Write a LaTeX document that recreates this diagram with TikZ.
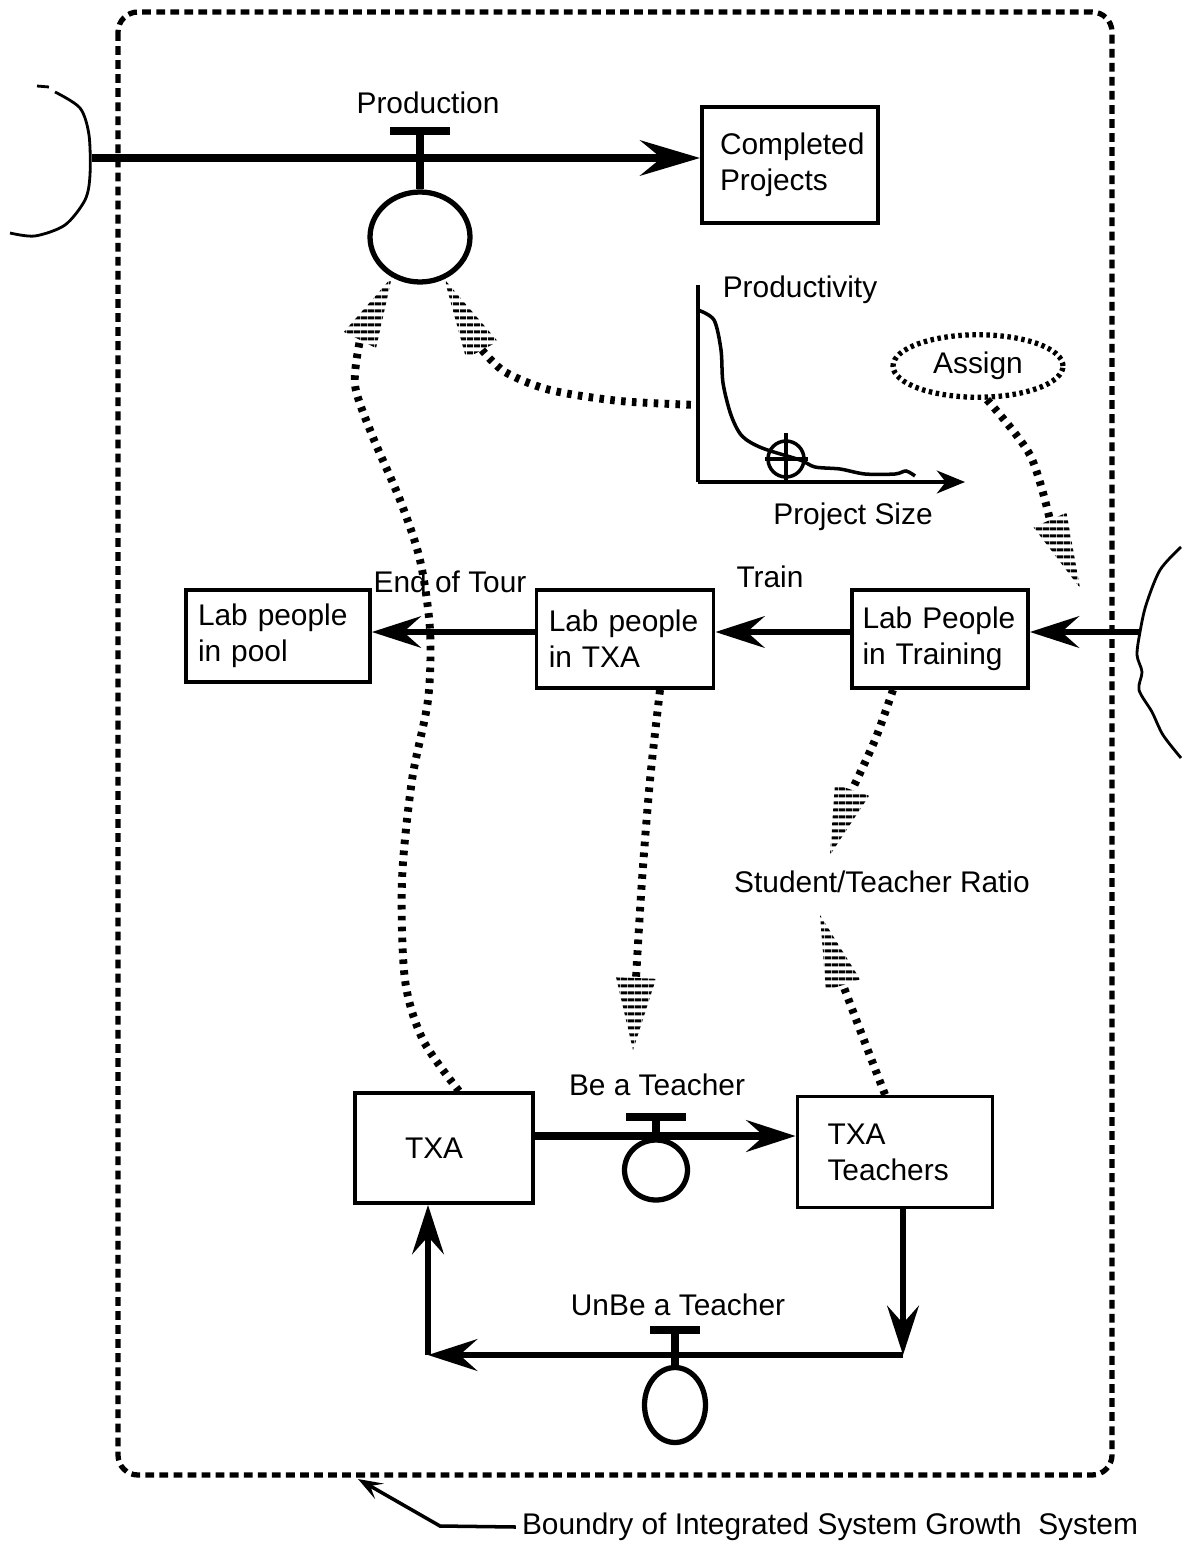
\documentclass[tikz,border=0pt]{standalone}
\usepackage{fontspec}
\setmainfont{Liberation Sans}
\usetikzlibrary{positioning}
\usetikzlibrary{arrows.meta}
\usetikzlibrary{shapes.geometric}
\usetikzlibrary{patterns.meta}
\usetikzlibrary{calc}
\hyphenpenalty=10000
\tikzset{stock/.style={draw,line width=2.2pt,inner sep=0pt,align=left}}
\tikzset{info/.style={line width=4.5pt,dash pattern=on 2.6pt off 3.6pt}}
\tikzset{hatch/.style={pattern={Lines[angle=0,distance=4pt,line width=1.8pt]}}}
\tikzset{flow/.style={line width=3.6pt,-{Stealth[length=28pt,width=18pt,inset=10pt]}}}
\tikzset{valve/.style={draw,ellipse,line width=3pt,inner sep=0pt}}
\tikzset{valvebar/.style={line width=4.5pt}}
\newcommand{\hatchhead}[3]{\path[hatch] (#1) -- ($(#2)!#3!90:(#1)$) -- ($(#2)!#3!-90:(#1)$) -- cycle;}

\begin{document}
\begin{tikzpicture}[x=0.02cm,y=-0.02cm,font=\fontsize{17}{20.5}\selectfont]
            \useasboundingbox (0,0) rectangle (1181,1547);
            % boundary
            \draw[line width=3pt,dash pattern=on 5pt off 3pt,rounded corners=0.4cm] (118,12) rectangle (1112,1475);
            % clouds
            \draw[line width=1.6pt] (37,86) -- (49,87);
            \draw[line width=1.6pt] plot[smooth] coordinates {(55,92) (80,108) (89,135) (90,175) (85,200) (65,225) (35,236) (10,233)};
            \coordinate (cloudL) at (92,158);
            \draw[line width=1.6pt] plot[smooth] coordinates {(1181,547) (1160,570) (1146,605) (1140,632) (1137,655) (1142,672) (1139,690) (1152,712) (1163,735) (1181,758)};
            \coordinate (cloudR) at (1140,632);
            % production
            \node[stock,minimum width=3.52cm,minimum height=2.32cm,text width=2.8cm] (done) at (790,165) {Completed\\Projects};
            \node[valve,minimum width=2cm,minimum height=1.8cm] (prodv) at (420,237) {};
            \node (prodl) at (428,103) {Production};
            \draw[line width=5pt,-{Stealth[length=34pt,width=20pt,inset=12pt]}] (cloudL) -- (done.west |- cloudL);
            \draw[valvebar] (prodv.north) -- ++(0,-58) ++(-30,0) -- ++(60,0);
            % graph
            \coordinate (yax) at (698,285);
            \coordinate (orig) at (698,482);
            \coordinate (xax) at (965,482);
            \draw[line width=2pt] (yax) -- (orig);
            \draw[line width=2pt,-{Stealth[length=16pt,width=13pt,inset=5pt]}] (orig) -- (xax);
            \draw[line width=2pt] plot[smooth] coordinates {(698,310) (714,320) (721,350) (723,383) (731,415) (742,436) (762,448) (800,460) (815,467) (840,469) (865,474) (895,474) (906,471) (915,476)};
            \draw[line width=2pt] (786,459) circle[radius=0.36cm];
            \draw[line width=2pt] (786,433) -- (786,482) (765,459) -- (808,459);
            \node (pvity) at (800,290) {Productivity};
            \node (psize) at (853,517) {Project Size};
            \coordinate (grafin) at (698,405);
            % assign
            \node[draw,ellipse,line width=3pt,dash pattern=on 2pt off 2pt,minimum width=3.4cm,minimum height=1.25cm] (assign) at (978,366) {Assign};
            % lab people
            \node[stock,minimum width=3.68cm,minimum height=1.84cm,text width=3.2cm] (pool) at (278,636) {Lab people\\in pool};
            \node[stock,minimum width=3.54cm,minimum height=1.96cm,text width=3.05cm] (txalab) at (625,639) {Lab people\\in TXA};
            \node[stock,minimum width=3.52cm,minimum height=1.96cm,text width=3.1cm] (train) at (940,639) {Lab People\\in Training};
            \draw[flow] (cloudR) -- (train.east |- cloudR);
            \draw[flow] (train.west |- cloudR) -- (txalab.east |- cloudR);
            \draw[flow,line width=3pt] (txalab.west |- cloudR) -- (pool.east |- cloudR);
            \node (eot) at (450,582) {End of Tour};
            \node (trainl) at (770,577) {Train};
            % teachers
            \node[stock,minimum width=3.56cm,minimum height=2.2cm,text width=1.56cm] (txa) at (444,1148) {TXA};
            \node[stock,minimum width=3.9cm,minimum height=2.22cm,text width=2.7cm] (teach) at (895,1152) {TXA\\Teachers};
            \coordinate (beline) at (0,1136);
            \draw[flow,line width=4pt] (txa.east |- beline) -- (teach.west |- beline);
            \node[valve,minimum width=1.26cm,minimum height=1.2cm] (bev) at (656,1170) {};
            \draw[valvebar] (bev.north) -- ++(0,-20) ++(-30,0) -- ++(60,0);
            \node (bel) at (657,1085) {Be a Teacher};
            \coordinate (c1) at (903,1355);
            \coordinate (c2) at (428,1355);
            \draw[flow] (teach.south -| c1) -- (c1);
            \draw[flow] (c1) -- (c2);
            \draw[flow] (c2) -- (txa.south -| c2);
            \node[valve,minimum width=1.22cm,minimum height=1.5cm] (ubv) at (675,1405) {};
            \draw[valvebar] (ubv.north) -- ++(0,-35) ++(-25,0) -- ++(50,0);
            \node (ubl) at (678,1305) {UnBe a Teacher};
            \node (ratio) at (882,882) {Student/Teacher Ratio};
            % information links
            \coordinate (h1) at (360,340);
            \draw[info] plot[smooth] coordinates {($(txa.north)+(15,0)$) (423,1040) (405,980) (402,880) (412,780) (428,700) (430,630) (420,560) (400,500) (372,435) (355,385) (h1)};
            \hatchhead{prodv.-125}{h1}{0.36cm}
            \coordinate (h2) at (482,350);
            \draw[info] plot[smooth] coordinates {(h2) (505,372) (550,390) (620,401) (grafin)};
            \hatchhead{prodv.-60}{h2}{0.36cm}
            \coordinate (h3) at (636,978);
            \coordinate (bt) at (633,1050);
            \draw[info] plot[smooth] coordinates {($(txalab.south)+(35,0)$) (650,780) (642,880) (h3)};
            \hatchhead{bt}{h3}{0.4cm}
            \coordinate (h4) at (852,790);
            \coordinate (h4a) at (830,855);
            \draw[info] plot[smooth] coordinates {($(train.south)+(-47,0)$) (875,740) (h4)};
            \hatchhead{h4a}{h4}{0.36cm}
            \coordinate (h5) at (843,985);
            \coordinate (h5a) at (820,915);
            \draw[info] plot[smooth] coordinates {($(teach.north)+(-10,0)$) (862,1035) (h5)};
            \hatchhead{h5a}{h5}{0.36cm}
            \coordinate (h6) at (1050,520);
            \coordinate (h6a) at (1080,588);
            \draw[info] plot[smooth] coordinates {(assign.-75) (1030,455) (h6)};
            \hatchhead{h6a}{h6}{0.36cm}
            % boundary note
            \node (bnote) at (830,1527) {Boundry of Integrated System Growth\ \ System};
            \coordinate (bdry) at (358,1479);
            \draw[line width=2pt,-{Stealth[length=14pt,width=10pt,inset=6pt]}] (bnote.west) -- (440,1526) -- (bdry);
        \end{tikzpicture}
\end{document}
